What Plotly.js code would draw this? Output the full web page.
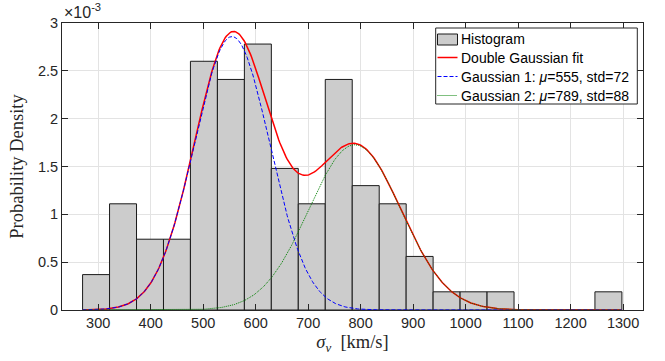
<!DOCTYPE html>
<html>
<head>
<meta charset="utf-8">
<script src="https://cdn.plot.ly/plotly-3.0.1.min.js"></script>
<style>html,body{margin:0;padding:0;background:#fff}#chart{width:665px;height:361px}</style>
</head>
<body>
<div id="chart"></div>
<script>
// Histogram bins (bin centres in km/s) and probability density (x 10^-3)
const binCenters = [295.9, 347.3, 398.7, 450.0, 501.4, 552.8, 604.2, 655.5, 706.9, 758.3,
                    809.7, 861.1, 912.4, 963.8, 1015.2, 1066.6, 1118.0, 1169.3, 1220.7, 1272.1];
const binWidth = 51.38;
const density = [0.37, 1.11, 0.74, 0.74, 2.60, 2.41, 2.78, 1.48, 1.11, 2.41,
                 1.30, 1.11, 0.56, 0.19, 0.19, 0.19, 0, 0, 0, 0.19];
// Fitted Gaussian components (from legend) and their weights
const mu = [555, 789];
const sd = [72, 88];
const weight = [0.516, 0.381];
const curveRange = [270, 1298];
const xTicks = [300, 400, 500, 600, 700, 800, 900, 1000, 1100, 1200, 1300];
const yTicks = [0, 0.5, 1, 1.5, 2, 2.5, 3];
const seriesNames = ['Histogram', 'Double Gaussian fit',
                     'Gaussian 1: <i>μ</i>=555, std=72', 'Gaussian 2: <i>μ</i>=789, std=88'];

function gauss(x, m, s, w) {
  return 1000 * w / (s * Math.sqrt(2 * Math.PI)) * Math.exp(-0.5 * Math.pow((x - m) / s, 2));
}
const xs = [];
for (let x = curveRange[0]; x <= curveRange[1]; x += 2) xs.push(x);
const g1 = xs.map(x => gauss(x, mu[0], sd[0], weight[0]));
const g2 = xs.map(x => gauss(x, mu[1], sd[1], weight[1]));
const gsum = xs.map((x, i) => g1[i] + g2[i]);

const styles = {
  bar: {fill: '#cccccc', edge: '#1a1a1a'},
  fit: {color: '#ff0000', width: 1.5, dash: 'solid'},
  g1: {color: '#0000ff', width: 1, dash: '4px,2px'},
  g2: {color: '#008000', width: 1, dash: '1px,1px'}
};

const traces = [
  {type: 'bar', x: binCenters, y: density, width: binCenters.map(() => binWidth),
   marker: {color: styles.bar.fill, line: {color: styles.bar.edge, width: 1}}, name: seriesNames[0]},
  {type: 'scatter', mode: 'lines', x: xs, y: gsum, line: styles.fit, name: seriesNames[1]},
  {type: 'scatter', mode: 'lines', x: xs, y: g1, line: styles.g1, name: seriesNames[2]},
  {type: 'scatter', mode: 'lines', x: xs, y: g2, line: styles.g2, name: seriesNames[3]}
];

// Plot area geometry (pixels) for the hand-placed, compact legend
const W = 665, H = 361, M = {l: 62, r: 22, t: 23, b: 51};
const pw = W - M.l - M.r, ph = H - M.t - M.b;
const px = v => (v - M.l) / pw;
const py = v => (H - M.b - v) / ph;

const legBox = {x0: 435.7, x1: 637.3, y0: 28, y1: 104};
const rowY = [39.5, 57.5, 76.5, 95.5];
const symX0 = 437.5, symX1 = 457.5, textX = 459;

const shapes = [
  {type: 'rect', xref: 'paper', yref: 'paper', layer: 'above',
   x0: px(legBox.x0), x1: px(legBox.x1), y0: py(legBox.y1), y1: py(legBox.y0),
   fillcolor: '#ffffff', line: {color: '#262626', width: 1}},
  {type: 'rect', xref: 'paper', yref: 'paper', layer: 'above',
   x0: px(symX0), x1: px(symX1), y0: py(rowY[0] + 5.5), y1: py(rowY[0] - 5.5),
   fillcolor: styles.bar.fill, line: {color: styles.bar.edge, width: 1}}
];
[styles.fit, styles.g1, styles.g2].forEach((st, i) => {
  shapes.push({type: 'line', xref: 'paper', yref: 'paper', layer: 'above',
    x0: px(symX0), x1: px(symX1), y0: py(rowY[i + 1]), y1: py(rowY[i + 1]),
    line: {color: st.color, width: st.width, dash: st.dash}});
});

const annotations = [{
  xref: 'paper', yref: 'paper', x: 0, y: 1, xanchor: 'left', yanchor: 'bottom', yshift: 0,
  text: '×10<sup>-3</sup>', showarrow: false,
  font: {family: 'Liberation Sans, Arial, sans-serif', size: 16, color: '#262626'}
}];
seriesNames.forEach((nm, i) => {
  annotations.push({xref: 'paper', yref: 'paper', x: px(textX), y: py(rowY[i]),
    xanchor: 'left', yanchor: 'middle', text: nm, showarrow: false,
    font: {family: 'Liberation Sans, Arial, sans-serif', size: 14, color: '#000000'}});
});

const axisCommon = {
  showline: true, linecolor: '#262626', linewidth: 1, mirror: 'ticks',
  ticks: 'inside', ticklen: 6, tickcolor: '#262626', tickwidth: 1,
  showgrid: true, gridcolor: '#e3e3e3', gridwidth: 1, zeroline: false,
  tickfont: {family: 'Liberation Sans, Arial, sans-serif', size: 14.5, color: '#262626'}
};

const layout = {
  width: W, height: H,
  margin: {l: M.l, r: M.r, t: M.t, b: M.b, pad: 0},
  paper_bgcolor: '#ffffff', plot_bgcolor: '#ffffff',
  bargap: 0,
  showlegend: false,
  xaxis: Object.assign({}, axisCommon, {
    range: [231, 1338], tickvals: xTicks, ticktext: xTicks.map(String),
    title: {text: '<i>σ</i><sub><i>v</i></sub>  [km/s]', standoff: 4,
            font: {family: 'Liberation Serif, Times New Roman, serif', size: 18.5, color: '#262626'}}
  }),
  yaxis: Object.assign({}, axisCommon, {
    range: [0, 3], tickvals: yTicks, ticktext: yTicks.map(String),
    title: {text: 'Probability Density', standoff: 9,
            font: {family: 'Liberation Serif, Times New Roman, serif', size: 18.5, color: '#262626'}}
  }),
  shapes: shapes,
  annotations: annotations
};

Plotly.newPlot('chart', traces, layout, {displayModeBar: false, staticPlot: true});
</script>
</body>
</html>
